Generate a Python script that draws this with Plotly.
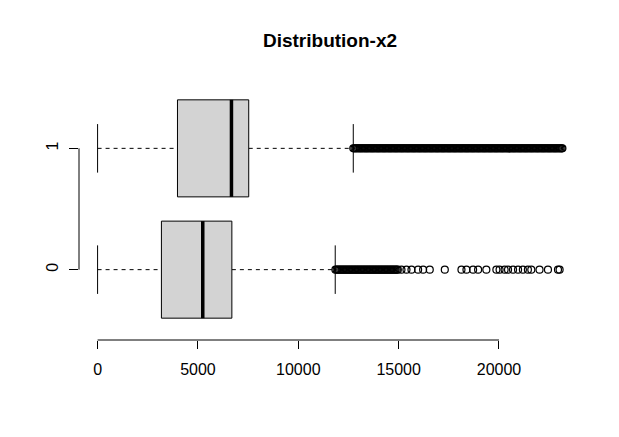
import plotly.graph_objects as go

# ---- data ----
groups = ["0", "1"]
group_pos = [1, 2]
q1 = [3180, 3980]
median = [5240, 6670]
q3 = [6690, 7530]
whisker_low = [0, 0]
whisker_high = [11840, 12740]

outliers_0 = [11850, 11910, 11970, 12030, 12090, 12150, 12210, 12270, 12330, 12390,
              12450, 12510, 12570, 12630, 12690, 12750, 12810, 12870, 12930, 12990,
              13050, 13110, 13170, 13230, 13290, 13350, 13410, 13470, 13530, 13590,
              13650, 13710, 13770, 13830, 13890, 13950, 14010, 14070, 14130, 14190,
              14250, 14310, 14370, 14430, 14490, 14550, 14610, 14670, 14730, 14790,
              14850, 14910, 14960,
              15140, 15390, 15640, 15970, 16220, 16550, 17300, 18130, 18380, 18710,
              18960, 19370, 19870, 20030, 20280, 20450, 20700, 20950, 21190, 21440,
              21610, 22020, 22440, 22940, 23020]
outliers_1 = [12740, 12800, 12860, 12920, 12980, 13040, 13100, 13160, 13220, 13280,
              13340, 13400, 13460, 13520, 13580, 13640, 13700, 13760, 13820, 13880,
              13940, 14000, 14060, 14120, 14180, 14240, 14300, 14360, 14420, 14480,
              14540, 14600, 14660, 14720, 14780, 14840, 14900, 14960, 15020, 15080,
              15140, 15200, 15260, 15320, 15380, 15440, 15500, 15560, 15620, 15680,
              15740, 15800, 15860, 15920, 15980, 16040, 16100, 16160, 16220, 16280,
              16340, 16400, 16460, 16520, 16580, 16640, 16700, 16760, 16820, 16880,
              16940, 17000, 17060, 17120, 17180, 17240, 17300, 17360, 17420, 17480,
              17540, 17600, 17660, 17720, 17780, 17840, 17900, 17960, 18020, 18080,
              18140, 18200, 18260, 18320, 18380, 18440, 18500, 18560, 18620, 18680,
              18740, 18800, 18860, 18920, 18980, 19040, 19100, 19160, 19220, 19280,
              19340, 19400, 19460, 19520, 19580, 19640, 19700, 19760, 19820, 19880,
              19940, 20000, 20060, 20120, 20180, 20240, 20300, 20360, 20420, 20480,
              20540, 20600, 20660, 20720, 20780, 20840, 20900, 20960, 21020, 21080,
              21140, 21200, 21260, 21320, 21380, 21440, 21500, 21560, 21620, 21680,
              21740, 21800, 21860, 21920, 21980, 22040, 22100, 22160, 22220, 22280,
              22340, 22400, 22460, 22520, 22580, 22640, 22700, 22760, 22820, 22880,
              22940, 23000, 23060, 23120, 23160]
outliers = [outliers_0, outliers_1]
x_ticks = [0, 5000, 10000, 15000, 20000]
title_text = "Distribution-x2"

FONT = "Liberation Sans, Arial, sans-serif"
half_box = 0.4
half_staple = 0.2

fig = go.Figure()
for i, p in enumerate(group_pos):
    # whiskers (dashed)
    fig.add_trace(go.Scatter(x=[whisker_low[i], q1[i], None, q3[i], whisker_high[i]],
                             y=[p, p, None, p, p], mode="lines",
                             line=dict(color="black", width=1, dash="4px,4px"),
                             hoverinfo="skip", showlegend=False))
    # staples
    fig.add_trace(go.Scatter(x=[whisker_low[i], whisker_low[i], None, whisker_high[i], whisker_high[i]],
                             y=[p - half_staple, p + half_staple, None, p - half_staple, p + half_staple],
                             mode="lines", line=dict(color="black", width=1),
                             hoverinfo="skip", showlegend=False))
    # box
    fig.add_trace(go.Scatter(x=[q1[i], q3[i], q3[i], q1[i], q1[i]],
                             y=[p - half_box, p - half_box, p + half_box, p + half_box, p - half_box],
                             mode="lines", fill="toself", fillcolor="#D3D3D3",
                             line=dict(color="black", width=1),
                             hoverinfo="skip", showlegend=False))
    # median
    fig.add_trace(go.Scatter(x=[median[i], median[i]], y=[p - half_box, p + half_box],
                             mode="lines", line=dict(color="black", width=3.5),
                             hoverinfo="skip", showlegend=False))
    # outliers
    fig.add_trace(go.Scatter(x=outliers[i], y=[p] * len(outliers[i]), mode="markers",
                             marker=dict(symbol="circle-open", size=7, color="black",
                                         line=dict(width=1.2, color="black")),
                             hoverinfo="skip", showlegend=False))

xmax = max(max(o) for o in outliers)
ext = 0.04 * xmax

# the page body adds an 8px offset; margins compensate for it
fig.update_layout(
    width=619, height=437,
    margin=dict(l=71, r=46, t=70, b=105),
    paper_bgcolor="white", plot_bgcolor="white",
    font=dict(family=FONT, size=16, color="black"),
    title=dict(text="<b>" + title_text + "</b>", x=0.5, xref="paper",
               y=1 - 32 / 437, yref="container", yanchor="middle", xanchor="center",
               font=dict(family=FONT, size=19, color="black")),
    xaxis=dict(range=[-ext, xmax + ext], tickvals=x_ticks,
               ticktext=[str(t) for t in x_ticks],
               showgrid=False, zeroline=False, showline=False,
               ticks="outside", ticklen=8, tickcolor="black", tickwidth=1,
               ticklabelstandoff=7,
               tickfont=dict(family=FONT, size=16, color="black")),
    yaxis=dict(range=[0.42, 2.58], tickvals=group_pos, ticktext=groups,
               showgrid=False, zeroline=False, showline=False,
               ticks="outside", ticklen=9, tickcolor="black", tickwidth=1,
               tickangle=-90, ticklabelstandoff=5,
               tickfont=dict(family=FONT, size=16, color="black")),
    shapes=[
        dict(type="line", xref="x", yref="paper", x0=x_ticks[0], x1=x_ticks[-1], y0=0, y1=0,
             line=dict(color="black", width=1)),
        dict(type="line", xref="paper", yref="y", x0=0, x1=0, y0=group_pos[0], y1=group_pos[-1],
             line=dict(color="black", width=1)),
    ],
)

fig.write_html("out.html")
